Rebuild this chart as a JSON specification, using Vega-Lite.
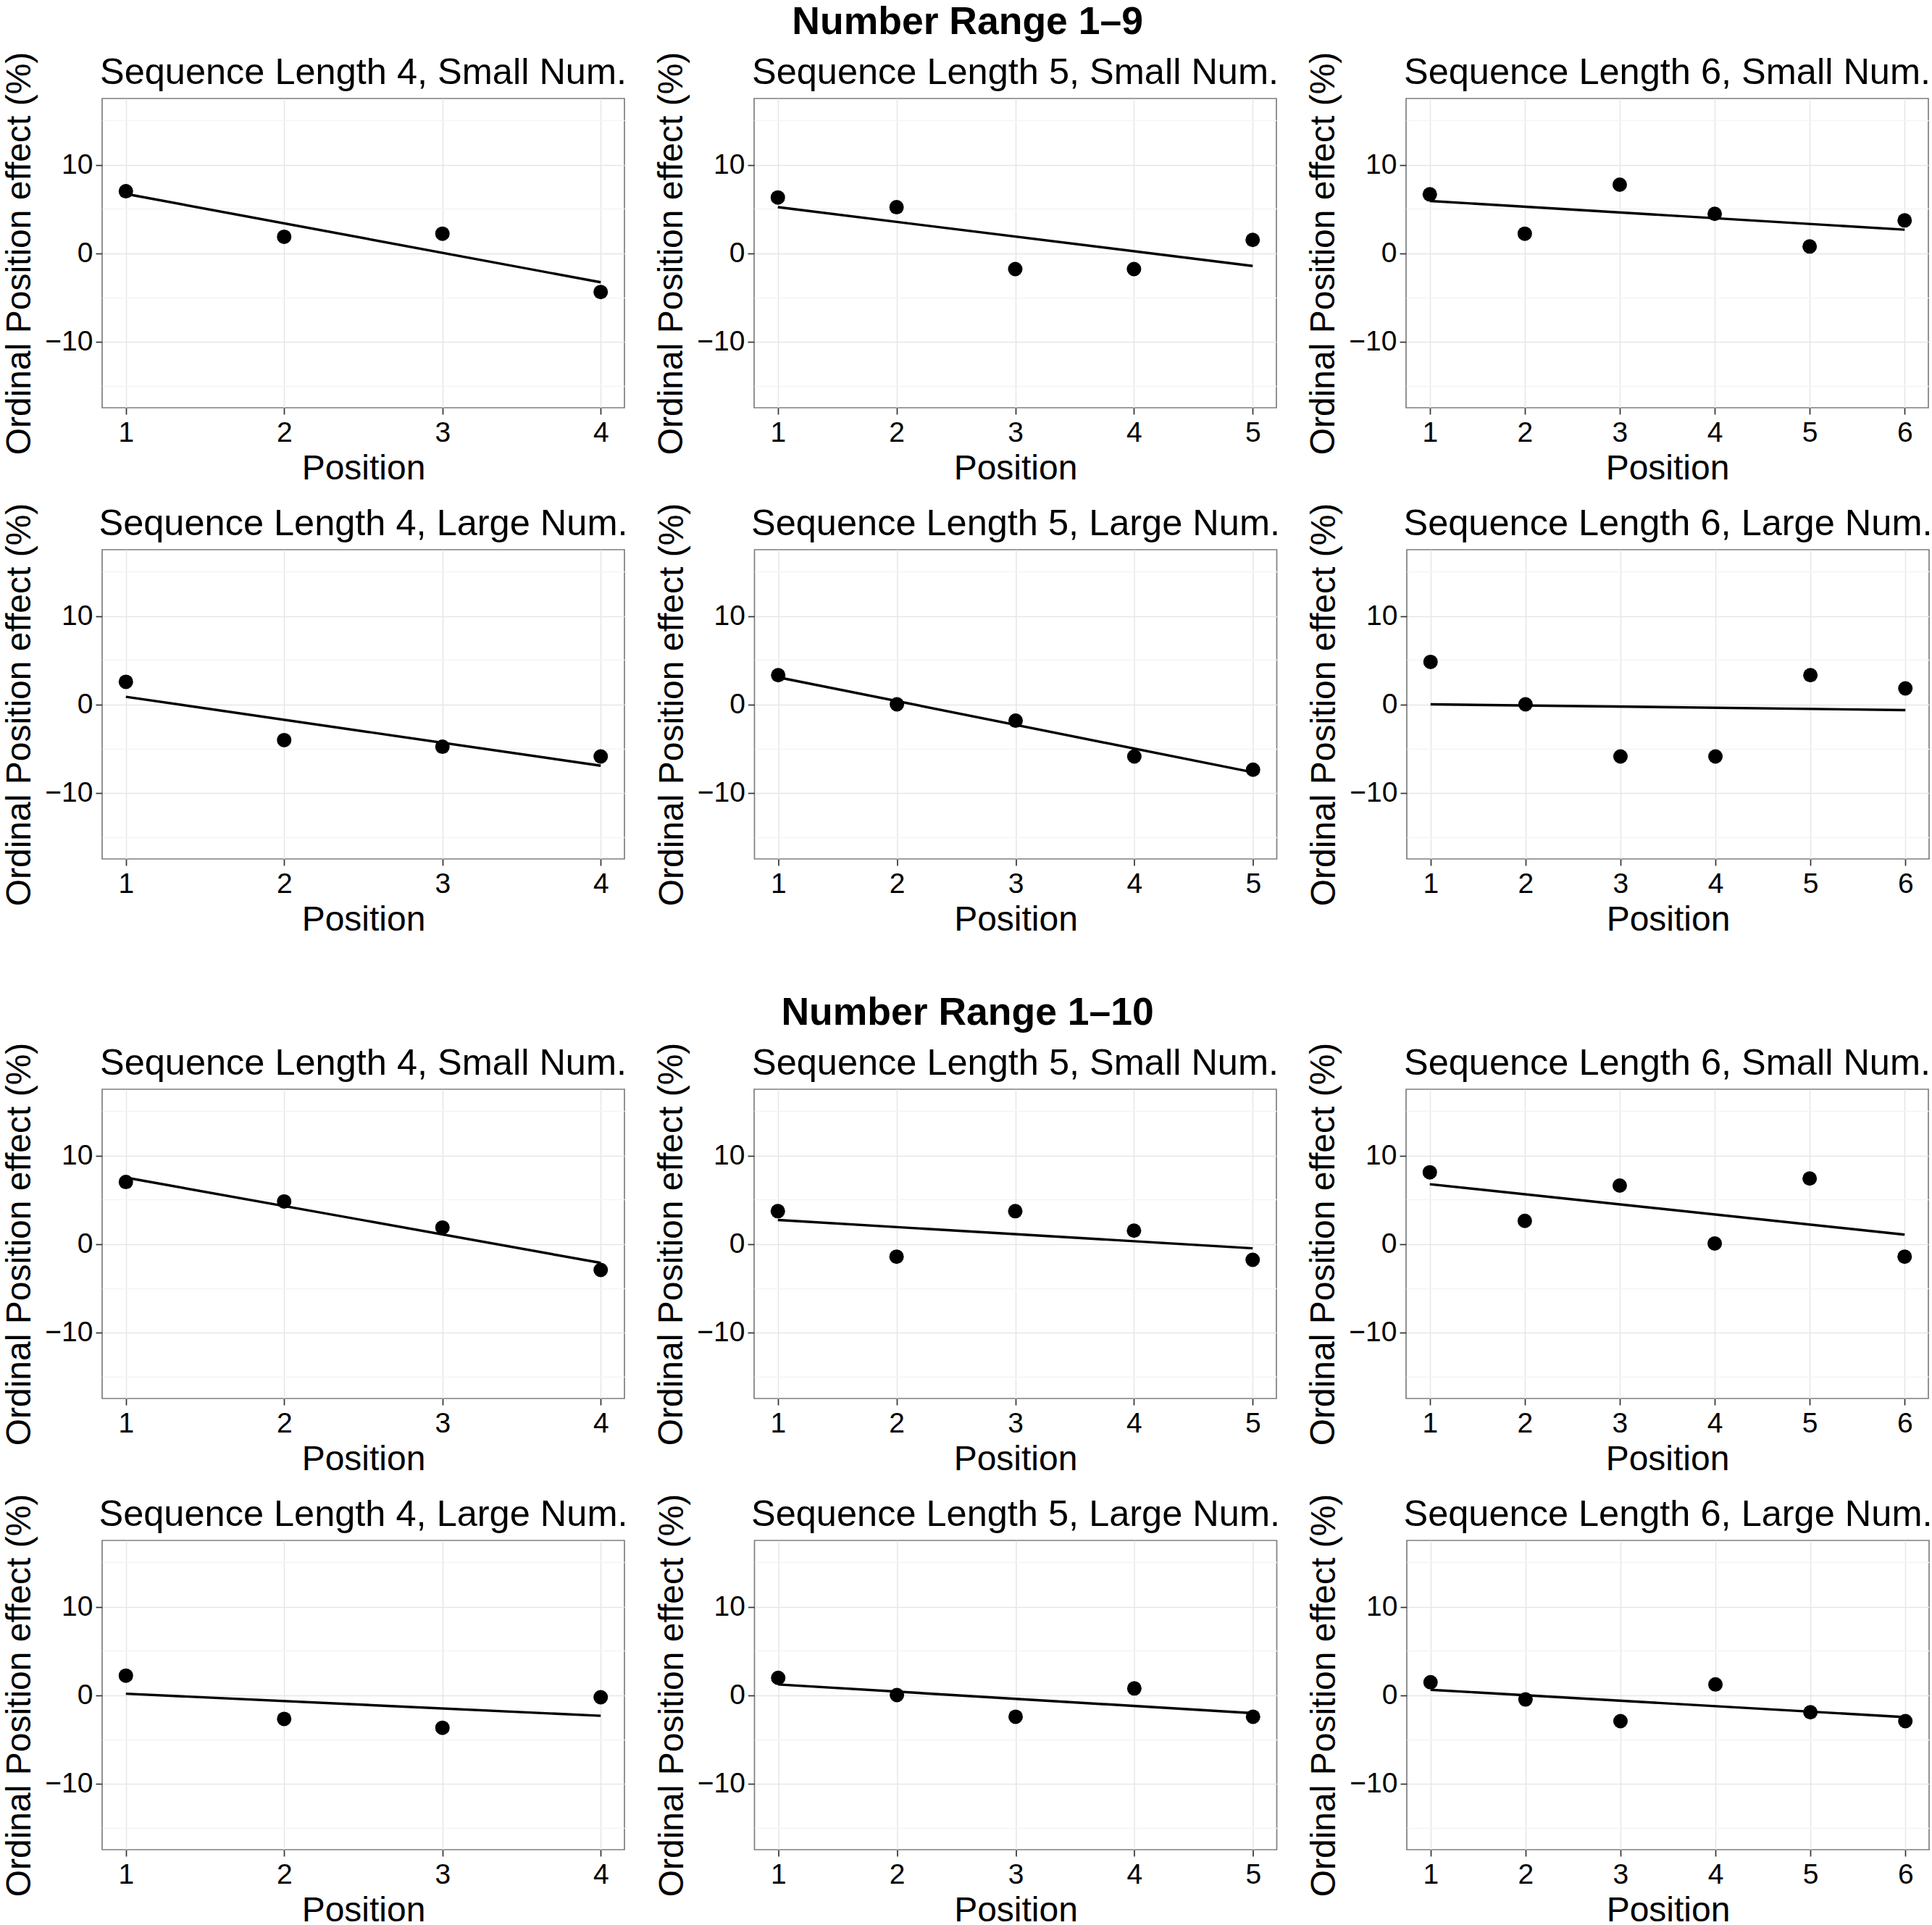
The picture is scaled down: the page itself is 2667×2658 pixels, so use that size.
{
  "$schema": "https://vega.github.io/schema/vega-lite/v6.json",
  "background": "white",
  "padding": {"left": 2, "top": 3, "right": 0, "bottom": 0},
  "datasets": {
    "points": [
      {"range": "1-9", "len": 4, "size": "Small", "pos": 1, "effect": 7.0},
      {"range": "1-9", "len": 4, "size": "Small", "pos": 2, "effect": 1.85},
      {"range": "1-9", "len": 4, "size": "Small", "pos": 3, "effect": 2.2},
      {"range": "1-9", "len": 4, "size": "Small", "pos": 4, "effect": -4.4},
      {"range": "1-9", "len": 5, "size": "Small", "pos": 1, "effect": 6.3},
      {"range": "1-9", "len": 5, "size": "Small", "pos": 2, "effect": 5.2},
      {"range": "1-9", "len": 5, "size": "Small", "pos": 3, "effect": -1.8},
      {"range": "1-9", "len": 5, "size": "Small", "pos": 4, "effect": -1.8},
      {"range": "1-9", "len": 5, "size": "Small", "pos": 5, "effect": 1.5},
      {"range": "1-9", "len": 6, "size": "Small", "pos": 1, "effect": 6.65},
      {"range": "1-9", "len": 6, "size": "Small", "pos": 2, "effect": 2.2},
      {"range": "1-9", "len": 6, "size": "Small", "pos": 3, "effect": 7.75},
      {"range": "1-9", "len": 6, "size": "Small", "pos": 4, "effect": 4.45},
      {"range": "1-9", "len": 6, "size": "Small", "pos": 5, "effect": 0.75},
      {"range": "1-9", "len": 6, "size": "Small", "pos": 6, "effect": 3.7},
      {"range": "1-9", "len": 4, "size": "Large", "pos": 1, "effect": 2.55},
      {"range": "1-9", "len": 4, "size": "Large", "pos": 2, "effect": -4.05},
      {"range": "1-9", "len": 4, "size": "Large", "pos": 3, "effect": -4.8},
      {"range": "1-9", "len": 4, "size": "Large", "pos": 4, "effect": -5.9},
      {"range": "1-9", "len": 5, "size": "Large", "pos": 1, "effect": 3.3},
      {"range": "1-9", "len": 5, "size": "Large", "pos": 2, "effect": 0.0},
      {"range": "1-9", "len": 5, "size": "Large", "pos": 3, "effect": -1.85},
      {"range": "1-9", "len": 5, "size": "Large", "pos": 4, "effect": -5.9},
      {"range": "1-9", "len": 5, "size": "Large", "pos": 5, "effect": -7.4},
      {"range": "1-9", "len": 6, "size": "Large", "pos": 1, "effect": 4.8},
      {"range": "1-9", "len": 6, "size": "Large", "pos": 2, "effect": 0.0},
      {"range": "1-9", "len": 6, "size": "Large", "pos": 3, "effect": -5.9},
      {"range": "1-9", "len": 6, "size": "Large", "pos": 4, "effect": -5.9},
      {"range": "1-9", "len": 6, "size": "Large", "pos": 5, "effect": 3.3},
      {"range": "1-9", "len": 6, "size": "Large", "pos": 6, "effect": 1.8},
      {"range": "1-10", "len": 4, "size": "Small", "pos": 1, "effect": 7.0},
      {"range": "1-10", "len": 4, "size": "Small", "pos": 2, "effect": 4.8},
      {"range": "1-10", "len": 4, "size": "Small", "pos": 3, "effect": 1.85},
      {"range": "1-10", "len": 4, "size": "Small", "pos": 4, "effect": -2.95},
      {"range": "1-10", "len": 5, "size": "Small", "pos": 1, "effect": 3.7},
      {"range": "1-10", "len": 5, "size": "Small", "pos": 2, "effect": -1.45},
      {"range": "1-10", "len": 5, "size": "Small", "pos": 3, "effect": 3.7},
      {"range": "1-10", "len": 5, "size": "Small", "pos": 4, "effect": 1.5},
      {"range": "1-10", "len": 5, "size": "Small", "pos": 5, "effect": -1.8},
      {"range": "1-10", "len": 6, "size": "Small", "pos": 1, "effect": 8.1},
      {"range": "1-10", "len": 6, "size": "Small", "pos": 2, "effect": 2.6},
      {"range": "1-10", "len": 6, "size": "Small", "pos": 3, "effect": 6.6},
      {"range": "1-10", "len": 6, "size": "Small", "pos": 4, "effect": 0.05},
      {"range": "1-10", "len": 6, "size": "Small", "pos": 5, "effect": 7.4},
      {"range": "1-10", "len": 6, "size": "Small", "pos": 6, "effect": -1.45},
      {"range": "1-10", "len": 4, "size": "Large", "pos": 1, "effect": 2.2},
      {"range": "1-10", "len": 4, "size": "Large", "pos": 2, "effect": -2.7},
      {"range": "1-10", "len": 4, "size": "Large", "pos": 3, "effect": -3.7},
      {"range": "1-10", "len": 4, "size": "Large", "pos": 4, "effect": -0.25},
      {"range": "1-10", "len": 5, "size": "Large", "pos": 1, "effect": 1.95},
      {"range": "1-10", "len": 5, "size": "Large", "pos": 2, "effect": 0.0},
      {"range": "1-10", "len": 5, "size": "Large", "pos": 3, "effect": -2.45},
      {"range": "1-10", "len": 5, "size": "Large", "pos": 4, "effect": 0.75},
      {"range": "1-10", "len": 5, "size": "Large", "pos": 5, "effect": -2.45},
      {"range": "1-10", "len": 6, "size": "Large", "pos": 1, "effect": 1.45},
      {"range": "1-10", "len": 6, "size": "Large", "pos": 2, "effect": -0.5},
      {"range": "1-10", "len": 6, "size": "Large", "pos": 3, "effect": -2.95},
      {"range": "1-10", "len": 6, "size": "Large", "pos": 4, "effect": 1.2},
      {"range": "1-10", "len": 6, "size": "Large", "pos": 5, "effect": -1.95},
      {"range": "1-10", "len": 6, "size": "Large", "pos": 6, "effect": -2.95}
    ],
    "fits": [
      {"range": "1-9", "len": 4, "size": "Small", "pos": 1, "effect": 6.7},
      {"range": "1-9", "len": 4, "size": "Small", "pos": 4, "effect": -3.3},
      {"range": "1-9", "len": 5, "size": "Small", "pos": 1, "effect": 5.2},
      {"range": "1-9", "len": 5, "size": "Small", "pos": 5, "effect": -1.45},
      {"range": "1-9", "len": 6, "size": "Small", "pos": 1, "effect": 5.9},
      {"range": "1-9", "len": 6, "size": "Small", "pos": 6, "effect": 2.65},
      {"range": "1-9", "len": 4, "size": "Large", "pos": 1, "effect": 0.85},
      {"range": "1-9", "len": 4, "size": "Large", "pos": 4, "effect": -6.95},
      {"range": "1-9", "len": 5, "size": "Large", "pos": 1, "effect": 3.05},
      {"range": "1-9", "len": 5, "size": "Large", "pos": 5, "effect": -7.7},
      {"range": "1-9", "len": 6, "size": "Large", "pos": 1, "effect": 0.0},
      {"range": "1-9", "len": 6, "size": "Large", "pos": 6, "effect": -0.65},
      {"range": "1-10", "len": 4, "size": "Small", "pos": 1, "effect": 7.5},
      {"range": "1-10", "len": 4, "size": "Small", "pos": 4, "effect": -2.15},
      {"range": "1-10", "len": 5, "size": "Small", "pos": 1, "effect": 2.7},
      {"range": "1-10", "len": 5, "size": "Small", "pos": 5, "effect": -0.5},
      {"range": "1-10", "len": 6, "size": "Small", "pos": 1, "effect": 6.75},
      {"range": "1-10", "len": 6, "size": "Small", "pos": 6, "effect": 1.05},
      {"range": "1-10", "len": 4, "size": "Large", "pos": 1, "effect": 0.15},
      {"range": "1-10", "len": 4, "size": "Large", "pos": 4, "effect": -2.35},
      {"range": "1-10", "len": 5, "size": "Large", "pos": 1, "effect": 1.2},
      {"range": "1-10", "len": 5, "size": "Large", "pos": 5, "effect": -2.05},
      {"range": "1-10", "len": 6, "size": "Large", "pos": 1, "effect": 0.6},
      {"range": "1-10", "len": 6, "size": "Large", "pos": 6, "effect": -2.5}
    ]
  },
  "spacing": 76,
  "vconcat": [
    {
      "title": {"text": "Number Range 1–9", "fontSize": 53.5, "fontWeight": "bold", "anchor": "middle", "offset": 12},
      "spacing": 21,
      "vconcat": [
        {"spacing": 36, "hconcat": [
          {"width": 721, "height": 427, "title": "Sequence Length 4, Small Num.",
           "encoding": {"x": {"field": "pos", "type": "quantitative", "title": "Position", "scale": {"domain": [0.85, 4.15], "nice": false, "zero": false}, "axis": {"values": [1, 1.5, 2, 2.5, 3, 3.5, 4], "format": "d", "labelExpr": "datum.value % 1 === 0 ? datum.label : ''", "tickOpacity": {"condition": {"test": "datum.value % 1 !== 0", "value": 0}, "value": 1}, "gridColor": {"condition": {"test": "datum.value % 1 !== 0", "value": "#F4F4F4"}, "value": "#E6E6E6"}}},
                        "y": {"field": "effect", "type": "quantitative", "title": "Ordinal Position effect (%)", "scale": {"domain": [-17.5, 17.5], "nice": false, "zero": false}, "axis": {"values": [-15, -10, -5, 0, 5, 10, 15], "labelExpr": "datum.value % 10 === 0 ? datum.label : ''", "tickOpacity": {"condition": {"test": "datum.value % 10 !== 0", "value": 0}, "value": 1}, "gridColor": {"condition": {"test": "datum.value % 10 !== 0", "value": "#F4F4F4"}, "value": "#E6E6E6"}}}},
           "layer": [
             {"data": {"name": "points"}, "transform": [{"filter": "datum.range === '1-9' && datum.len === 4 && datum.size === 'Small'"}], "mark": {"type": "circle", "size": 400, "color": "black", "opacity": 1}},
             {"data": {"name": "fits"}, "transform": [{"filter": "datum.range === '1-9' && datum.len === 4 && datum.size === 'Small'"}], "mark": {"type": "line", "color": "black", "strokeWidth": 3.4}}
           ]},
          {"width": 721, "height": 427, "title": "Sequence Length 5, Small Num.",
           "encoding": {"x": {"field": "pos", "type": "quantitative", "title": "Position", "scale": {"domain": [0.8, 5.2], "nice": false, "zero": false}, "axis": {"values": [1, 1.5, 2, 2.5, 3, 3.5, 4, 4.5, 5], "format": "d", "labelExpr": "datum.value % 1 === 0 ? datum.label : ''", "tickOpacity": {"condition": {"test": "datum.value % 1 !== 0", "value": 0}, "value": 1}, "gridColor": {"condition": {"test": "datum.value % 1 !== 0", "value": "#F4F4F4"}, "value": "#E6E6E6"}}},
                        "y": {"field": "effect", "type": "quantitative", "title": "Ordinal Position effect (%)", "scale": {"domain": [-17.5, 17.5], "nice": false, "zero": false}, "axis": {"values": [-15, -10, -5, 0, 5, 10, 15], "labelExpr": "datum.value % 10 === 0 ? datum.label : ''", "tickOpacity": {"condition": {"test": "datum.value % 10 !== 0", "value": 0}, "value": 1}, "gridColor": {"condition": {"test": "datum.value % 10 !== 0", "value": "#F4F4F4"}, "value": "#E6E6E6"}}}},
           "layer": [
             {"data": {"name": "points"}, "transform": [{"filter": "datum.range === '1-9' && datum.len === 5 && datum.size === 'Small'"}], "mark": {"type": "circle", "size": 400, "color": "black", "opacity": 1}},
             {"data": {"name": "fits"}, "transform": [{"filter": "datum.range === '1-9' && datum.len === 5 && datum.size === 'Small'"}], "mark": {"type": "line", "color": "black", "strokeWidth": 3.4}}
           ]},
          {"width": 721, "height": 427, "title": "Sequence Length 6, Small Num.",
           "encoding": {"x": {"field": "pos", "type": "quantitative", "title": "Position", "scale": {"domain": [0.75, 6.25], "nice": false, "zero": false}, "axis": {"values": [1, 1.5, 2, 2.5, 3, 3.5, 4, 4.5, 5, 5.5, 6], "format": "d", "labelExpr": "datum.value % 1 === 0 ? datum.label : ''", "tickOpacity": {"condition": {"test": "datum.value % 1 !== 0", "value": 0}, "value": 1}, "gridColor": {"condition": {"test": "datum.value % 1 !== 0", "value": "#F4F4F4"}, "value": "#E6E6E6"}}},
                        "y": {"field": "effect", "type": "quantitative", "title": "Ordinal Position effect (%)", "scale": {"domain": [-17.5, 17.5], "nice": false, "zero": false}, "axis": {"values": [-15, -10, -5, 0, 5, 10, 15], "labelExpr": "datum.value % 10 === 0 ? datum.label : ''", "tickOpacity": {"condition": {"test": "datum.value % 10 !== 0", "value": 0}, "value": 1}, "gridColor": {"condition": {"test": "datum.value % 10 !== 0", "value": "#F4F4F4"}, "value": "#E6E6E6"}}}},
           "layer": [
             {"data": {"name": "points"}, "transform": [{"filter": "datum.range === '1-9' && datum.len === 6 && datum.size === 'Small'"}], "mark": {"type": "circle", "size": 400, "color": "black", "opacity": 1}},
             {"data": {"name": "fits"}, "transform": [{"filter": "datum.range === '1-9' && datum.len === 6 && datum.size === 'Small'"}], "mark": {"type": "line", "color": "black", "strokeWidth": 3.4}}
           ]}
        ]},
        {"spacing": 34.5, "hconcat": [
          {"width": 721, "height": 427, "title": "Sequence Length 4, Large Num.",
           "encoding": {"x": {"field": "pos", "type": "quantitative", "title": "Position", "scale": {"domain": [0.85, 4.15], "nice": false, "zero": false}, "axis": {"values": [1, 1.5, 2, 2.5, 3, 3.5, 4], "format": "d", "labelExpr": "datum.value % 1 === 0 ? datum.label : ''", "tickOpacity": {"condition": {"test": "datum.value % 1 !== 0", "value": 0}, "value": 1}, "gridColor": {"condition": {"test": "datum.value % 1 !== 0", "value": "#F4F4F4"}, "value": "#E6E6E6"}}},
                        "y": {"field": "effect", "type": "quantitative", "title": "Ordinal Position effect (%)", "scale": {"domain": [-17.5, 17.5], "nice": false, "zero": false}, "axis": {"values": [-15, -10, -5, 0, 5, 10, 15], "labelExpr": "datum.value % 10 === 0 ? datum.label : ''", "tickOpacity": {"condition": {"test": "datum.value % 10 !== 0", "value": 0}, "value": 1}, "gridColor": {"condition": {"test": "datum.value % 10 !== 0", "value": "#F4F4F4"}, "value": "#E6E6E6"}}}},
           "layer": [
             {"data": {"name": "points"}, "transform": [{"filter": "datum.range === '1-9' && datum.len === 4 && datum.size === 'Large'"}], "mark": {"type": "circle", "size": 400, "color": "black", "opacity": 1}},
             {"data": {"name": "fits"}, "transform": [{"filter": "datum.range === '1-9' && datum.len === 4 && datum.size === 'Large'"}], "mark": {"type": "line", "color": "black", "strokeWidth": 3.4}}
           ]},
          {"width": 721, "height": 427, "title": "Sequence Length 5, Large Num.",
           "encoding": {"x": {"field": "pos", "type": "quantitative", "title": "Position", "scale": {"domain": [0.8, 5.2], "nice": false, "zero": false}, "axis": {"values": [1, 1.5, 2, 2.5, 3, 3.5, 4, 4.5, 5], "format": "d", "labelExpr": "datum.value % 1 === 0 ? datum.label : ''", "tickOpacity": {"condition": {"test": "datum.value % 1 !== 0", "value": 0}, "value": 1}, "gridColor": {"condition": {"test": "datum.value % 1 !== 0", "value": "#F4F4F4"}, "value": "#E6E6E6"}}},
                        "y": {"field": "effect", "type": "quantitative", "title": "Ordinal Position effect (%)", "scale": {"domain": [-17.5, 17.5], "nice": false, "zero": false}, "axis": {"values": [-15, -10, -5, 0, 5, 10, 15], "labelExpr": "datum.value % 10 === 0 ? datum.label : ''", "tickOpacity": {"condition": {"test": "datum.value % 10 !== 0", "value": 0}, "value": 1}, "gridColor": {"condition": {"test": "datum.value % 10 !== 0", "value": "#F4F4F4"}, "value": "#E6E6E6"}}}},
           "layer": [
             {"data": {"name": "points"}, "transform": [{"filter": "datum.range === '1-9' && datum.len === 5 && datum.size === 'Large'"}], "mark": {"type": "circle", "size": 400, "color": "black", "opacity": 1}},
             {"data": {"name": "fits"}, "transform": [{"filter": "datum.range === '1-9' && datum.len === 5 && datum.size === 'Large'"}], "mark": {"type": "line", "color": "black", "strokeWidth": 3.4}}
           ]},
          {"width": 721, "height": 427, "title": "Sequence Length 6, Large Num.",
           "encoding": {"x": {"field": "pos", "type": "quantitative", "title": "Position", "scale": {"domain": [0.75, 6.25], "nice": false, "zero": false}, "axis": {"values": [1, 1.5, 2, 2.5, 3, 3.5, 4, 4.5, 5, 5.5, 6], "format": "d", "labelExpr": "datum.value % 1 === 0 ? datum.label : ''", "tickOpacity": {"condition": {"test": "datum.value % 1 !== 0", "value": 0}, "value": 1}, "gridColor": {"condition": {"test": "datum.value % 1 !== 0", "value": "#F4F4F4"}, "value": "#E6E6E6"}}},
                        "y": {"field": "effect", "type": "quantitative", "title": "Ordinal Position effect (%)", "scale": {"domain": [-17.5, 17.5], "nice": false, "zero": false}, "axis": {"values": [-15, -10, -5, 0, 5, 10, 15], "labelExpr": "datum.value % 10 === 0 ? datum.label : ''", "tickOpacity": {"condition": {"test": "datum.value % 10 !== 0", "value": 0}, "value": 1}, "gridColor": {"condition": {"test": "datum.value % 10 !== 0", "value": "#F4F4F4"}, "value": "#E6E6E6"}}}},
           "layer": [
             {"data": {"name": "points"}, "transform": [{"filter": "datum.range === '1-9' && datum.len === 6 && datum.size === 'Large'"}], "mark": {"type": "circle", "size": 400, "color": "black", "opacity": 1}},
             {"data": {"name": "fits"}, "transform": [{"filter": "datum.range === '1-9' && datum.len === 6 && datum.size === 'Large'"}], "mark": {"type": "line", "color": "black", "strokeWidth": 3.4}}
           ]}
        ]}
      ]
    },
    {
      "title": {"text": "Number Range 1–10", "fontSize": 53.5, "fontWeight": "bold", "anchor": "middle", "offset": 12},
      "spacing": 21,
      "vconcat": [
        {"spacing": 36, "hconcat": [
          {"width": 721, "height": 427, "title": "Sequence Length 4, Small Num.",
           "encoding": {"x": {"field": "pos", "type": "quantitative", "title": "Position", "scale": {"domain": [0.85, 4.15], "nice": false, "zero": false}, "axis": {"values": [1, 1.5, 2, 2.5, 3, 3.5, 4], "format": "d", "labelExpr": "datum.value % 1 === 0 ? datum.label : ''", "tickOpacity": {"condition": {"test": "datum.value % 1 !== 0", "value": 0}, "value": 1}, "gridColor": {"condition": {"test": "datum.value % 1 !== 0", "value": "#F4F4F4"}, "value": "#E6E6E6"}}},
                        "y": {"field": "effect", "type": "quantitative", "title": "Ordinal Position effect (%)", "scale": {"domain": [-17.5, 17.5], "nice": false, "zero": false}, "axis": {"values": [-15, -10, -5, 0, 5, 10, 15], "labelExpr": "datum.value % 10 === 0 ? datum.label : ''", "tickOpacity": {"condition": {"test": "datum.value % 10 !== 0", "value": 0}, "value": 1}, "gridColor": {"condition": {"test": "datum.value % 10 !== 0", "value": "#F4F4F4"}, "value": "#E6E6E6"}}}},
           "layer": [
             {"data": {"name": "points"}, "transform": [{"filter": "datum.range === '1-10' && datum.len === 4 && datum.size === 'Small'"}], "mark": {"type": "circle", "size": 400, "color": "black", "opacity": 1}},
             {"data": {"name": "fits"}, "transform": [{"filter": "datum.range === '1-10' && datum.len === 4 && datum.size === 'Small'"}], "mark": {"type": "line", "color": "black", "strokeWidth": 3.4}}
           ]},
          {"width": 721, "height": 427, "title": "Sequence Length 5, Small Num.",
           "encoding": {"x": {"field": "pos", "type": "quantitative", "title": "Position", "scale": {"domain": [0.8, 5.2], "nice": false, "zero": false}, "axis": {"values": [1, 1.5, 2, 2.5, 3, 3.5, 4, 4.5, 5], "format": "d", "labelExpr": "datum.value % 1 === 0 ? datum.label : ''", "tickOpacity": {"condition": {"test": "datum.value % 1 !== 0", "value": 0}, "value": 1}, "gridColor": {"condition": {"test": "datum.value % 1 !== 0", "value": "#F4F4F4"}, "value": "#E6E6E6"}}},
                        "y": {"field": "effect", "type": "quantitative", "title": "Ordinal Position effect (%)", "scale": {"domain": [-17.5, 17.5], "nice": false, "zero": false}, "axis": {"values": [-15, -10, -5, 0, 5, 10, 15], "labelExpr": "datum.value % 10 === 0 ? datum.label : ''", "tickOpacity": {"condition": {"test": "datum.value % 10 !== 0", "value": 0}, "value": 1}, "gridColor": {"condition": {"test": "datum.value % 10 !== 0", "value": "#F4F4F4"}, "value": "#E6E6E6"}}}},
           "layer": [
             {"data": {"name": "points"}, "transform": [{"filter": "datum.range === '1-10' && datum.len === 5 && datum.size === 'Small'"}], "mark": {"type": "circle", "size": 400, "color": "black", "opacity": 1}},
             {"data": {"name": "fits"}, "transform": [{"filter": "datum.range === '1-10' && datum.len === 5 && datum.size === 'Small'"}], "mark": {"type": "line", "color": "black", "strokeWidth": 3.4}}
           ]},
          {"width": 721, "height": 427, "title": "Sequence Length 6, Small Num.",
           "encoding": {"x": {"field": "pos", "type": "quantitative", "title": "Position", "scale": {"domain": [0.75, 6.25], "nice": false, "zero": false}, "axis": {"values": [1, 1.5, 2, 2.5, 3, 3.5, 4, 4.5, 5, 5.5, 6], "format": "d", "labelExpr": "datum.value % 1 === 0 ? datum.label : ''", "tickOpacity": {"condition": {"test": "datum.value % 1 !== 0", "value": 0}, "value": 1}, "gridColor": {"condition": {"test": "datum.value % 1 !== 0", "value": "#F4F4F4"}, "value": "#E6E6E6"}}},
                        "y": {"field": "effect", "type": "quantitative", "title": "Ordinal Position effect (%)", "scale": {"domain": [-17.5, 17.5], "nice": false, "zero": false}, "axis": {"values": [-15, -10, -5, 0, 5, 10, 15], "labelExpr": "datum.value % 10 === 0 ? datum.label : ''", "tickOpacity": {"condition": {"test": "datum.value % 10 !== 0", "value": 0}, "value": 1}, "gridColor": {"condition": {"test": "datum.value % 10 !== 0", "value": "#F4F4F4"}, "value": "#E6E6E6"}}}},
           "layer": [
             {"data": {"name": "points"}, "transform": [{"filter": "datum.range === '1-10' && datum.len === 6 && datum.size === 'Small'"}], "mark": {"type": "circle", "size": 400, "color": "black", "opacity": 1}},
             {"data": {"name": "fits"}, "transform": [{"filter": "datum.range === '1-10' && datum.len === 6 && datum.size === 'Small'"}], "mark": {"type": "line", "color": "black", "strokeWidth": 3.4}}
           ]}
        ]},
        {"spacing": 34.5, "hconcat": [
          {"width": 721, "height": 427, "title": "Sequence Length 4, Large Num.",
           "encoding": {"x": {"field": "pos", "type": "quantitative", "title": "Position", "scale": {"domain": [0.85, 4.15], "nice": false, "zero": false}, "axis": {"values": [1, 1.5, 2, 2.5, 3, 3.5, 4], "format": "d", "labelExpr": "datum.value % 1 === 0 ? datum.label : ''", "tickOpacity": {"condition": {"test": "datum.value % 1 !== 0", "value": 0}, "value": 1}, "gridColor": {"condition": {"test": "datum.value % 1 !== 0", "value": "#F4F4F4"}, "value": "#E6E6E6"}}},
                        "y": {"field": "effect", "type": "quantitative", "title": "Ordinal Position effect (%)", "scale": {"domain": [-17.5, 17.5], "nice": false, "zero": false}, "axis": {"values": [-15, -10, -5, 0, 5, 10, 15], "labelExpr": "datum.value % 10 === 0 ? datum.label : ''", "tickOpacity": {"condition": {"test": "datum.value % 10 !== 0", "value": 0}, "value": 1}, "gridColor": {"condition": {"test": "datum.value % 10 !== 0", "value": "#F4F4F4"}, "value": "#E6E6E6"}}}},
           "layer": [
             {"data": {"name": "points"}, "transform": [{"filter": "datum.range === '1-10' && datum.len === 4 && datum.size === 'Large'"}], "mark": {"type": "circle", "size": 400, "color": "black", "opacity": 1}},
             {"data": {"name": "fits"}, "transform": [{"filter": "datum.range === '1-10' && datum.len === 4 && datum.size === 'Large'"}], "mark": {"type": "line", "color": "black", "strokeWidth": 3.4}}
           ]},
          {"width": 721, "height": 427, "title": "Sequence Length 5, Large Num.",
           "encoding": {"x": {"field": "pos", "type": "quantitative", "title": "Position", "scale": {"domain": [0.8, 5.2], "nice": false, "zero": false}, "axis": {"values": [1, 1.5, 2, 2.5, 3, 3.5, 4, 4.5, 5], "format": "d", "labelExpr": "datum.value % 1 === 0 ? datum.label : ''", "tickOpacity": {"condition": {"test": "datum.value % 1 !== 0", "value": 0}, "value": 1}, "gridColor": {"condition": {"test": "datum.value % 1 !== 0", "value": "#F4F4F4"}, "value": "#E6E6E6"}}},
                        "y": {"field": "effect", "type": "quantitative", "title": "Ordinal Position effect (%)", "scale": {"domain": [-17.5, 17.5], "nice": false, "zero": false}, "axis": {"values": [-15, -10, -5, 0, 5, 10, 15], "labelExpr": "datum.value % 10 === 0 ? datum.label : ''", "tickOpacity": {"condition": {"test": "datum.value % 10 !== 0", "value": 0}, "value": 1}, "gridColor": {"condition": {"test": "datum.value % 10 !== 0", "value": "#F4F4F4"}, "value": "#E6E6E6"}}}},
           "layer": [
             {"data": {"name": "points"}, "transform": [{"filter": "datum.range === '1-10' && datum.len === 5 && datum.size === 'Large'"}], "mark": {"type": "circle", "size": 400, "color": "black", "opacity": 1}},
             {"data": {"name": "fits"}, "transform": [{"filter": "datum.range === '1-10' && datum.len === 5 && datum.size === 'Large'"}], "mark": {"type": "line", "color": "black", "strokeWidth": 3.4}}
           ]},
          {"width": 721, "height": 427, "title": "Sequence Length 6, Large Num.",
           "encoding": {"x": {"field": "pos", "type": "quantitative", "title": "Position", "scale": {"domain": [0.75, 6.25], "nice": false, "zero": false}, "axis": {"values": [1, 1.5, 2, 2.5, 3, 3.5, 4, 4.5, 5, 5.5, 6], "format": "d", "labelExpr": "datum.value % 1 === 0 ? datum.label : ''", "tickOpacity": {"condition": {"test": "datum.value % 1 !== 0", "value": 0}, "value": 1}, "gridColor": {"condition": {"test": "datum.value % 1 !== 0", "value": "#F4F4F4"}, "value": "#E6E6E6"}}},
                        "y": {"field": "effect", "type": "quantitative", "title": "Ordinal Position effect (%)", "scale": {"domain": [-17.5, 17.5], "nice": false, "zero": false}, "axis": {"values": [-15, -10, -5, 0, 5, 10, 15], "labelExpr": "datum.value % 10 === 0 ? datum.label : ''", "tickOpacity": {"condition": {"test": "datum.value % 10 !== 0", "value": 0}, "value": 1}, "gridColor": {"condition": {"test": "datum.value % 10 !== 0", "value": "#F4F4F4"}, "value": "#E6E6E6"}}}},
           "layer": [
             {"data": {"name": "points"}, "transform": [{"filter": "datum.range === '1-10' && datum.len === 6 && datum.size === 'Large'"}], "mark": {"type": "circle", "size": 400, "color": "black", "opacity": 1}},
             {"data": {"name": "fits"}, "transform": [{"filter": "datum.range === '1-10' && datum.len === 6 && datum.size === 'Large'"}], "mark": {"type": "line", "color": "black", "strokeWidth": 3.4}}
           ]}
        ]}
      ]
    }
  ],
  "config": {
    "font": "Liberation Sans",
    "view": {"stroke": "#7F7F7F", "strokeWidth": 1.7},
    "axis": {"domain": false, "labelFontSize": 39, "titleFontSize": 48, "titleFontWeight": "normal", "labelColor": "black", "titleColor": "black", "tickColor": "#333333", "tickSize": 9, "tickWidth": 1.7, "gridWidth": 1.5, "labelOverlap": false, "labelFlush": false},
    "axisY": {"titlePadding": 10, "labelPadding": 4},
    "axisX": {"labelPadding": 6, "titlePadding": 6},
    "title": {"fontSize": 50.5, "fontWeight": "normal", "offset": -55, "color": "black"}
  }
}
